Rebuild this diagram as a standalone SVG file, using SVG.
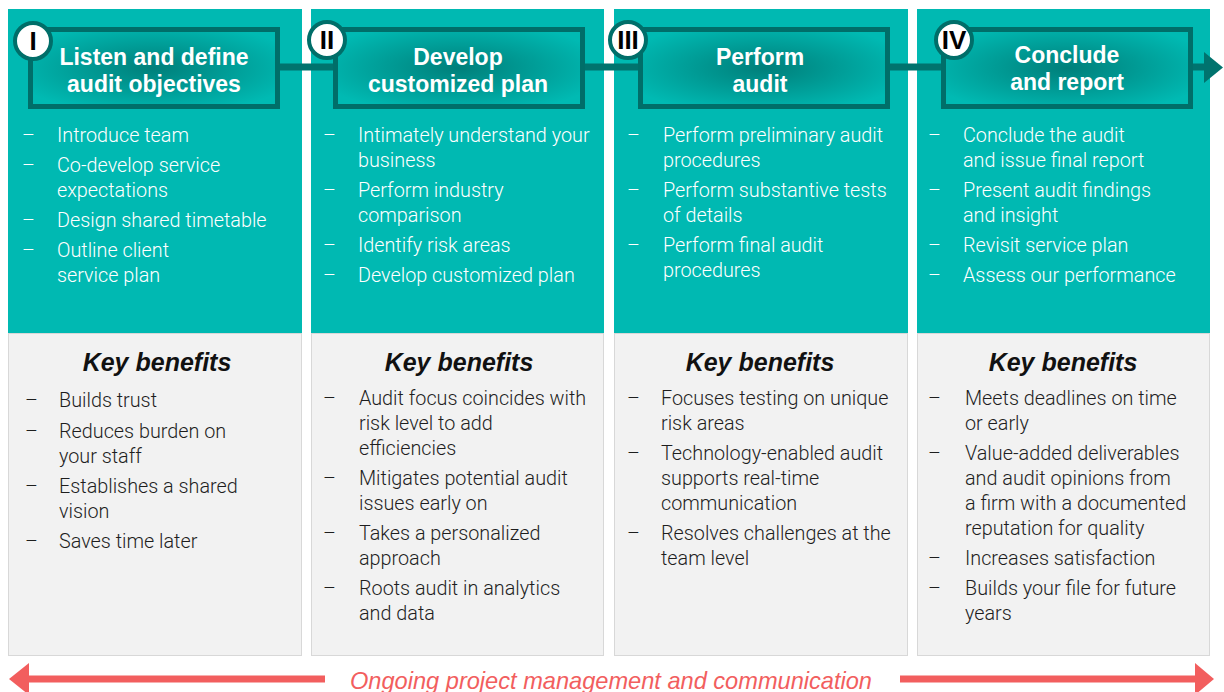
<svg xmlns="http://www.w3.org/2000/svg" width="1224" height="692" viewBox="0 0 1224 692">
<defs>
<radialGradient id="hg" cx="0.5" cy="0.5" r="0.6">
<stop offset="0" stop-color="#007f7a"/>
<stop offset="1" stop-color="#00bab3"/>
</radialGradient>
</defs>
<style>
.teal{fill:#00b9b2}
.grey{fill:#f2f2f2;stroke:#d8d8d8;stroke-width:1}
.hbox{fill:url(#hg);stroke:#006e69;stroke-width:5}
.num{fill:#fff;stroke:#006e69;stroke-width:4}
.numt{font-family:"Liberation Sans",Arial,sans-serif;font-weight:bold;font-size:26px;fill:#000;text-anchor:middle}
.ht{font-family:"Liberation Sans",Arial,sans-serif;font-weight:bold;font-size:23px;fill:#fff;text-anchor:middle}
.tb{font-family:Roboto,"Liberation Sans",sans-serif;font-weight:300;font-size:19.8px;fill:#fff}
.gb{font-family:Roboto,"Liberation Sans",sans-serif;font-weight:300;font-size:19.8px;fill:#1e1e1e}
.kb{font-family:"Liberation Sans",Arial,sans-serif;font-weight:bold;font-style:italic;font-size:25px;fill:#111;text-anchor:middle}
.conn{stroke:#00736e;stroke-width:7;fill:none}
.red{stroke:#f25e5e;stroke-width:7;fill:none}
.redt{font-family:"Liberation Sans",Arial,sans-serif;font-style:italic;font-size:23.6px;fill:#f25e5e;text-anchor:middle}
</style>
<rect width="1224" height="692" fill="#fff"/>

<g id="col1">
<rect class="teal" x="8" y="9" width="294" height="324"/>
<rect class="grey" x="8.5" y="333.5" width="293" height="322"/>
</g>
<g id="col2">
<rect class="teal" x="311" y="9" width="293" height="324"/>
<rect class="grey" x="311.5" y="333.5" width="292" height="322"/>
</g>
<g id="col3">
<rect class="teal" x="614" y="9" width="294" height="324"/>
<rect class="grey" x="614.5" y="333.5" width="293" height="322"/>
</g>
<g id="col4">
<rect class="teal" x="917" y="9" width="293" height="324"/>
<rect class="grey" x="917.5" y="333.5" width="292" height="322"/>
</g>

<g id="connectors">
<line class="conn" x1="278" y1="67" x2="335" y2="67"/>
<line class="conn" x1="583" y1="67" x2="640" y2="67"/>
<line class="conn" x1="888" y1="67" x2="943" y2="67"/>
<line class="conn" x1="1191" y1="67" x2="1206" y2="67"/>
<polygon points="1204,52 1223,67.5 1204,83" fill="#00736e"/>
</g>

<g id="step1">
<rect class="hbox" x="30.5" y="29.5" width="247" height="77"/>
<circle class="num" cx="33" cy="41" r="18"/>
<text class="numt" x="33" y="50">I</text>
<text class="ht" x="154" y="65">Listen and define</text>
<text class="ht" x="154" y="92">audit objectives</text>
</g>
<g id="step2">
<rect class="hbox" x="335.5" y="29.5" width="247" height="77"/>
<circle class="num" cx="327" cy="40" r="18"/>
<text class="numt" x="327" y="49">II</text>
<text class="ht" x="458" y="65">Develop</text>
<text class="ht" x="458" y="92">customized plan</text>
</g>
<g id="step3">
<rect class="hbox" x="640.5" y="29.5" width="247" height="77"/>
<circle class="num" cx="628" cy="40" r="18"/>
<text class="numt" x="628" y="49">III</text>
<text class="ht" x="760" y="65">Perform</text>
<text class="ht" x="760" y="92">audit</text>
</g>
<g id="step4">
<rect class="hbox" x="943.5" y="29.5" width="247" height="77"/>
<circle class="num" cx="954" cy="40" r="18"/>
<text class="numt" x="954" y="49">IV</text>
<text class="ht" x="1067" y="63">Conclude</text>
<text class="ht" x="1067" y="90">and report</text>
</g>

<g id="tasks1" class="tb">
<text x="22" y="142">–</text><text x="57" y="142">Introduce team</text>
<text x="22" y="172">–</text><text x="57" y="172">Co-develop service</text>
<text x="57" y="197">expectations</text>
<text x="22" y="227">–</text><text x="57" y="227">Design shared timetable</text>
<text x="22" y="257">–</text><text x="57" y="257">Outline client</text>
<text x="57" y="282">service plan</text>
</g>
<g id="tasks2" class="tb">
<text x="323" y="142">–</text><text x="358" y="142">Intimately understand your</text>
<text x="358" y="167">business</text>
<text x="323" y="197">–</text><text x="358" y="197">Perform industry</text>
<text x="358" y="222">comparison</text>
<text x="323" y="252">–</text><text x="358" y="252">Identify risk areas</text>
<text x="323" y="282">–</text><text x="358" y="282">Develop customized plan</text>
</g>
<g id="tasks3" class="tb">
<text x="627" y="142">–</text><text x="663" y="142">Perform preliminary audit</text>
<text x="663" y="167">procedures</text>
<text x="627" y="197">–</text><text x="663" y="197">Perform substantive tests</text>
<text x="663" y="222">of details</text>
<text x="627" y="252">–</text><text x="663" y="252">Perform final audit</text>
<text x="663" y="277">procedures</text>
</g>
<g id="tasks4" class="tb">
<text x="928" y="142">–</text><text x="963" y="142">Conclude the audit</text>
<text x="963" y="167">and issue final report</text>
<text x="928" y="197">–</text><text x="963" y="197">Present audit findings</text>
<text x="963" y="222">and insight</text>
<text x="928" y="252">–</text><text x="963" y="252">Revisit service plan</text>
<text x="928" y="282">–</text><text x="963" y="282">Assess our performance</text>
</g>

<g id="benefits1">
<text class="kb" x="157" y="371">Key benefits</text>
<g class="gb">
<text x="25" y="407">–</text><text x="59" y="407">Builds trust</text>
<text x="25" y="438">–</text><text x="59" y="438">Reduces burden on</text>
<text x="59" y="463">your staff</text>
<text x="25" y="493">–</text><text x="59" y="493">Establishes a shared</text>
<text x="59" y="518">vision</text>
<text x="25" y="548">–</text><text x="59" y="548">Saves time later</text>
</g>
</g>
<g id="benefits2">
<text class="kb" x="459" y="371">Key benefits</text>
<g class="gb">
<text x="323" y="405">–</text><text x="359" y="405">Audit focus coincides with</text>
<text x="359" y="430">risk level to add</text>
<text x="359" y="455">efficiencies</text>
<text x="323" y="485">–</text><text x="359" y="485">Mitigates potential audit</text>
<text x="359" y="510">issues early on</text>
<text x="323" y="540">–</text><text x="359" y="540">Takes a personalized</text>
<text x="359" y="565">approach</text>
<text x="323" y="595">–</text><text x="359" y="595">Roots audit in analytics</text>
<text x="359" y="620">and data</text>
</g>
</g>
<g id="benefits3">
<text class="kb" x="760" y="371">Key benefits</text>
<g class="gb">
<text x="627" y="405">–</text><text x="661" y="405">Focuses testing on unique</text>
<text x="661" y="430">risk areas</text>
<text x="627" y="460">–</text><text x="661" y="460">Technology-enabled audit</text>
<text x="661" y="485">supports real-time</text>
<text x="661" y="510">communication</text>
<text x="627" y="540">–</text><text x="661" y="540">Resolves challenges at the</text>
<text x="661" y="565">team level</text>
</g>
</g>
<g id="benefits4">
<text class="kb" x="1063" y="371">Key benefits</text>
<g class="gb">
<text x="928" y="405">–</text><text x="965" y="405">Meets deadlines on time</text>
<text x="965" y="430">or early</text>
<text x="928" y="460">–</text><text x="965" y="460">Value-added deliverables</text>
<text x="965" y="485">and audit opinions from</text>
<text x="965" y="510">a firm with a documented</text>
<text x="965" y="535">reputation for quality</text>
<text x="928" y="565">–</text><text x="965" y="565">Increases satisfaction</text>
<text x="928" y="595">–</text><text x="965" y="595">Builds your file for future</text>
<text x="965" y="620">years</text>
</g>
</g>

<g id="ongoing">
<line class="red" x1="26" y1="679" x2="325" y2="679"/>
<polygon points="9,679 29,663 29,695" fill="#f25e5e"/>
<line class="red" x1="900" y1="679" x2="1198" y2="679"/>
<polygon points="1214,679 1195,663 1195,695" fill="#f25e5e"/>
<text class="redt" x="611" y="689">Ongoing project management and communication</text>
</g>
</svg>
